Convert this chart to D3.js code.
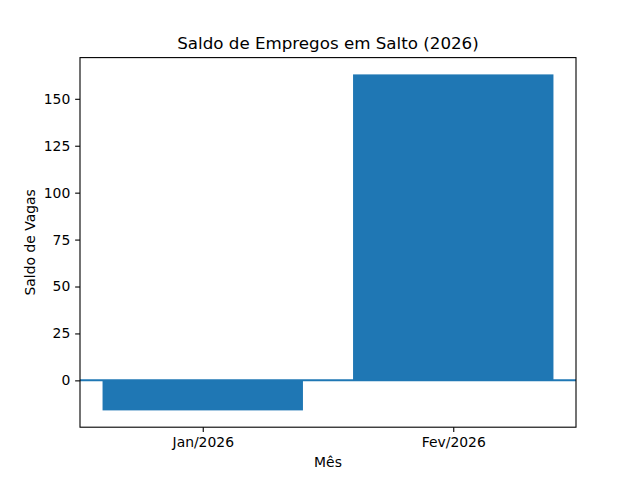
<!DOCTYPE html>
<html>
<head>
<meta charset="utf-8">
<script src="https://cdn.jsdelivr.net/npm/d3@7"></script>
<style>
  body { margin: 0; background: #fff; }
  text { font-family: "DejaVu Sans", sans-serif; fill: #000; }
</style>
</head>
<body>
<div id="grafico"></div>
<script>
// DATOS.
const meses = ["Jan/2026", "Fev/2026"];
const saldos = [-16, 163];
const ticksY = [0, 25, 50, 75, 100, 125, 150];

const width = 640, height = 480;
const margin = { left: 80, right: 64, top: 57.6, bottom: 52.8 };
const plotW = width - margin.left - margin.right;
const plotH = height - margin.top - margin.bottom;
const azul = "#1f77b4";

// escalas tipo matplotlib (5% de margen)
const yMin = d3.min(saldos.concat([0])), yMax = d3.max(saldos.concat([0]));
const yPad = (yMax - yMin) * 0.05;
const y = d3.scaleLinear()
  .domain([yMin - yPad, yMax + yPad])
  .range([plotH, 0]);

const barW = 0.8;
const xPad = ((meses.length - 1) + barW) * 0.05;
const x = d3.scaleLinear()
  .domain([-barW / 2 - xPad, meses.length - 1 + barW / 2 + xPad])
  .range([0, plotW]);

const svg = d3.select("#grafico").append("svg")
  .attr("width", width)
  .attr("height", height);

const g = svg.append("g")
  .attr("transform", `translate(${margin.left},${margin.top})`);

// barras
g.selectAll("rect.barra")
  .data(saldos).enter()
  .append("rect")
  .attr("class", "barra")
  .attr("x", (d, i) => x(i - barW / 2))
  .attr("width", (d, i) => x(i + barW / 2) - x(i - barW / 2))
  .attr("y", d => y(Math.max(0, d)))
  .attr("height", d => Math.abs(y(d) - y(0)))
  .attr("fill", azul);

// linea en cero
g.append("line")
  .attr("x1", 0).attr("x2", plotW)
  .attr("y1", y(0)).attr("y2", y(0))
  .attr("stroke", azul)
  .attr("stroke-width", 2);

// ejes
const ejeY = d3.axisLeft(y).tickValues(ticksY).tickSize(4.86).tickPadding(4.86);
const ejeX = d3.axisBottom(x).tickValues(meses.map((d, i) => i))
  .tickFormat(i => meses[i]).tickSize(4.86).tickPadding(4.86);

const gy = g.append("g").call(ejeY);
const gx = g.append("g").attr("transform", `translate(0,${plotH})`).call(ejeX);
[gx, gy].forEach(a => {
  a.select(".domain").remove();
  a.selectAll("line").attr("stroke", "#000").attr("stroke-width", 1.1);
  a.selectAll("text").attr("font-size", "13.9px")
    .style("font-family", "DejaVu Sans, sans-serif").attr("fill", "#000");
});

// marco
g.append("rect")
  .attr("width", plotW).attr("height", plotH)
  .attr("fill", "none").attr("stroke", "#000").attr("stroke-width", 1.1);

// textos
svg.append("text")
  .attr("x", margin.left + plotW / 2).attr("y", margin.top - 8.3)
  .attr("text-anchor", "middle").attr("font-size", "16.7px")
  .text("Saldo de Empregos em Salto (2026)");

svg.append("text")
  .attr("x", margin.left + plotW / 2).attr("y", 467)
  .attr("text-anchor", "middle").attr("font-size", "13.9px")
  .text("Mês");

svg.append("text")
  .attr("transform", `translate(35,${margin.top + plotH / 2}) rotate(-90)`)
  .attr("text-anchor", "middle").attr("font-size", "13.9px")
  .text("Saldo de Vagas");
</script>
</body>
</html>
